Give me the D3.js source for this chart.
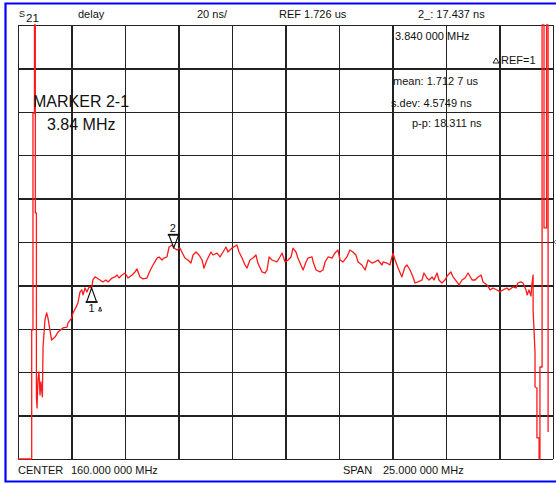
<!DOCTYPE html>
<html><head><meta charset="utf-8">
<script src="https://cdn.jsdelivr.net/npm/d3@7"></script>
<style>
body{margin:0;background:#fff}
svg{display:block}
text{font-family:"Liberation Sans",Arial,sans-serif;fill:#111}
</style>
</head><body>
<svg id="chart" width="556" height="484"></svg>
<script>
// ---- data ----
const freqMHz = [147.50,148.14,148.14,148.20,148.20,148.27,148.27,148.31,148.31,148.36,148.36,148.39,148.43,148.48,148.53,148.57,148.64,148.67,148.76,148.84,148.90,149.07,149.23,149.37,149.60,149.79,149.84,150.01,150.07,150.21,150.30,150.40,150.48,150.54,150.63,150.72,150.82,150.94,151.00,151.10,151.19,151.33,151.47,151.61,151.71,151.89,152.03,152.13,152.22,152.36,152.50,152.64,152.83,152.97,153.06,153.20,153.34,153.53,153.62,153.76,153.86,154.00,154.09,154.23,154.32,154.46,154.56,154.70,154.79,154.93,155.07,155.16,155.30,155.44,155.58,155.68,155.82,155.96,156.10,156.19,156.33,156.52,156.61,156.80,156.94,157.08,157.22,157.31,157.50,157.73,157.83,157.97,158.11,158.20,158.34,158.48,158.62,158.71,158.90,159.04,159.14,159.23,159.37,159.60,159.74,159.84,159.98,160.12,160.26,160.35,160.49,160.58,160.72,160.82,160.96,161.05,161.24,161.29,161.43,161.61,161.75,161.85,161.99,162.17,162.31,162.45,162.55,162.69,162.87,163.01,163.15,163.29,163.39,163.57,163.72,163.86,164.04,164.18,164.32,164.51,164.56,164.74,164.88,165.02,165.12,165.26,165.44,165.58,165.68,165.82,165.96,166.05,166.19,166.38,166.47,166.61,166.71,166.85,166.94,167.08,167.17,167.31,167.45,167.59,167.73,167.83,168.01,168.11,168.25,168.39,168.53,168.72,168.86,169.00,169.14,169.23,169.42,169.56,169.70,169.88,170.02,170.16,170.35,170.44,170.63,170.77,170.86,171.00,171.10,171.24,171.29,171.38,171.47,171.52,171.57,171.57,171.66,171.66,171.75,171.75,171.85,171.85,171.89,171.89,171.99,171.99,172.08,172.08,172.20,172.20,172.27,172.27];
const delayNs = [1600,1600,1685.5,1685.5,1785.4,1785.4,1850,1850,1739.4,1739.4,1654.6,1649.5,1662.4,1666.1,1655.5,1661.5,1654.6,1677.6,1690.1,1693.3,1691.0,1680.8,1682.2,1684.5,1686.4,1686.8,1688.7,1691.0,1693.3,1696.0,1697.9,1703.0,1703.9,1701.6,1704.8,1703.0,1705.3,1704.8,1708.5,1709.9,1709.4,1708.5,1707.6,1708.5,1707.6,1709.4,1709.9,1710.8,1709.4,1710.8,1711.7,1709.4,1710.8,1712.2,1713.6,1709.9,1709.0,1709.4,1711.7,1714.5,1716.3,1718.6,1719.1,1717.7,1718.6,1719.1,1723.7,1724.6,1723.2,1722.3,1723.2,1721.4,1718.6,1717.7,1716.3,1720.0,1721.4,1720.0,1717.7,1714.0,1717.7,1721.4,1720.0,1720.9,1719.1,1721.4,1723.7,1721.4,1723.2,1724.6,1721.4,1718.6,1715.4,1714.0,1717.7,1718.6,1720.0,1716.3,1712.2,1711.7,1713.1,1719.1,1717.7,1716.8,1719.1,1720.9,1716.8,1717.7,1719.1,1723.2,1721.4,1718.6,1715.4,1713.1,1716.8,1718.6,1719.1,1716.8,1713.1,1712.2,1713.1,1716.8,1719.1,1718.6,1720.9,1722.3,1717.7,1716.8,1719.1,1722.3,1721.4,1720.0,1716.8,1715.4,1713.1,1717.7,1716.3,1716.8,1717.7,1715.4,1716.8,1716.3,1715.4,1720.9,1717.7,1714.0,1709.9,1714.5,1715.4,1713.1,1709.9,1707.1,1707.6,1708.5,1711.7,1709.4,1708.5,1709.9,1708.5,1711.7,1708.5,1707.1,1708.5,1710.8,1712.2,1709.9,1707.6,1706.2,1708.5,1709.4,1711.7,1708.5,1708.5,1709.9,1710.8,1707.6,1706.2,1703.9,1704.8,1703.9,1703.0,1703.9,1704.8,1703.9,1705.3,1704.8,1707.1,1707.6,1707.1,1703.9,1701.6,1703.9,1701.1,1707.1,1710.8,1694.7,1674.9,1659.2,1658.7,1635.7,1635.7,1600,1600,1668.4,1668.4,1850,1850,1732.5,1732.5,1850,1850,1638.4];

const centerMHz = 160, spanMHz = 25;
const refNs = 1726, nsPerDiv = 20, divisions = 10, refDivFromBottom = 5;
const marker1MHz = 150.94, markerDeltaMHz = 3.84;

const headerTexts = [
  {t:"delay", x:78}, {t:"20 ns/", x:197}, {t:"REF 1.726 us", x:279}, {t:"2_: 17.437 ns", x:418}
];
const infoTexts = [
  {t:"3.840 000 MHz", x:395, y:40},
  {t:"REF=1", x:501, y:64},
  {t:"mean: 1.712 7 us", x:393, y:85},
  {t:"s.dev: 4.5749 ns", x:391, y:107},
  {t:"p-p: 18.311 ns", x:412, y:127}
];
const markerTexts = [{t:"MARKER 2-1", x:33, y:107}, {t:"3.84 MHz", x:47, y:130}];
const footerTexts = [
  {t:"CENTER", x:18}, {t:"160.000 000 MHz", x:71}, {t:"SPAN", x:343}, {t:"25.000 000 MHz", x:383}
];

// ---- layout ----
const svg = d3.select("#chart");
const L = 18, R = 553, T = 25, B = 459;
const x = d3.scaleLinear().domain([centerMHz - spanMHz/2, centerMHz + spanMHz/2]).range([L, R]);
const yMin = refNs - refDivFromBottom*nsPerDiv, yMax = yMin + divisions*nsPerDiv;
const y = d3.scaleLinear().domain([yMin, yMax]).range([B, T]).clamp(true);
const xTicks = d3.range(divisions+1).map(i => x.domain()[0] + i*spanMHz/divisions);
const yTicks = d3.range(divisions+1).map(i => yMin + i*nsPerDiv);

// blue frame
svg.append("path").attr("d", `M${R+20},3.5 H5.5 V481.5 H${R+20}`)
  .attr("fill","none").attr("stroke","#0000ff").attr("stroke-width",2.2);

// grid via axes
const gx = svg.append("g").attr("transform",`translate(0,${B})`)
  .call(d3.axisBottom(x).tickValues(xTicks).tickSize(-(B-T)).tickFormat(""));
const gy = svg.append("g").attr("transform",`translate(${L},0)`)
  .call(d3.axisLeft(y).tickValues(yTicks).tickSize(-(R-L)).tickFormat(""));
[gx, gy].forEach(g => {
  g.select(".domain").remove();
  g.selectAll(".tick line").attr("stroke","#222").attr("stroke-width",1.3).attr("shape-rendering","crispEdges");
});

// trace
const pts = freqMHz.map((f,i)=>[f, delayNs[i]]);
svg.append("path").datum(pts)
  .attr("d", d3.line().x(d=>x(d[0])).y(d=>y(d[1])))
  .attr("fill","none").attr("stroke","#ff1a1a").attr("stroke-width",1.3).attr("stroke-linejoin","round");

// reference position indicator at right edge
const yr = y(refNs);
svg.append("path").attr("d",`M${R+3},${yr-2} L${R+1},${yr} L${R+3},${yr+2}`)
  .attr("fill","none").attr("stroke","#666").attr("stroke-width",0.8);

// markers (apex placed on trace via interpolation)
function traceAt(f){
  for(let i=30;i<pts.length-1;i++){
    if(pts[i][0]<=f && pts[i+1][0]>=f){
      const t=(f-pts[i][0])/(pts[i+1][0]-pts[i][0]||1);
      return pts[i][1]+t*(pts[i+1][1]-pts[i][1]);
    }
  }
  return refNs;
}
const m1x = x(marker1MHz), m1y = y(traceAt(marker1MHz));
const m2f = marker1MHz + markerDeltaMHz;
const m2x = x(m2f), m2y = y(traceAt(m2f));
// marker 1: upward triangle below trace
svg.append("path").attr("d",`M${m1x},${m1y} L${m1x-5},${m1y+14} L${m1x+5},${m1y+14} Z`)
  .attr("fill","none").attr("stroke","#111").attr("stroke-width",1.1);
svg.append("line").attr("x1",m1x-6).attr("x2",m1x+6).attr("y1",m1y+14).attr("y2",m1y+14)
  .attr("stroke","#111").attr("stroke-width",1.8);
svg.append("text").attr("x",m1x).attr("y",m1y+24).attr("text-anchor","middle").attr("font-size",11).text("1");
svg.append("path").attr("d",`M${m1x+10},${m1y+23} L${m1x+7},${m1y+23} L${m1x+8.5},${m1y+19} Z`)
  .attr("fill","none").attr("stroke","#111").attr("stroke-width",0.9)
  .attr("transform",`translate(0,0) scale(1)`);
// marker 2: downward triangle above trace
svg.append("path").attr("d",`M${m2x},${m2y} L${m2x-5},${m2y-13} L${m2x+5},${m2y-13} Z`)
  .attr("fill","none").attr("stroke","#111").attr("stroke-width",1.1);
svg.append("line").attr("x1",m2x-6).attr("x2",m2x+6).attr("y1",m2y-13).attr("y2",m2y-13)
  .attr("stroke","#111").attr("stroke-width",1.8);
svg.append("text").attr("x",m2x-1).attr("y",m2y-16).attr("text-anchor","middle").attr("font-size",11).text("2");

// header
svg.append("text").attr("x",19).attr("y",17).attr("font-size",9).text("S");
svg.append("text").attr("x",26).attr("y",22).attr("font-size",11.5).text("21");
svg.selectAll(".hdr").data(headerTexts).join("text").attr("class","hdr")
  .attr("x",d=>d.x).attr("y",18).attr("font-size",11).text(d=>d.t);

// info block
svg.append("path").attr("d","M493,63 L499,63 L496,58 Z").attr("fill","none").attr("stroke","#111").attr("stroke-width",0.9);
svg.selectAll(".info").data(infoTexts).join("text").attr("class","info")
  .attr("x",d=>d.x).attr("y",d=>d.y).attr("font-size",11).text(d=>d.t);

// marker readout
svg.selectAll(".mk").data(markerTexts).join("text").attr("class","mk")
  .attr("x",d=>d.x).attr("y",d=>d.y).attr("font-size",16).text(d=>d.t);

// footer
svg.selectAll(".ftr").data(footerTexts).join("text").attr("class","ftr")
  .attr("x",d=>d.x).attr("y",474).attr("font-size",11).text(d=>d.t);
</script>
</body></html>
